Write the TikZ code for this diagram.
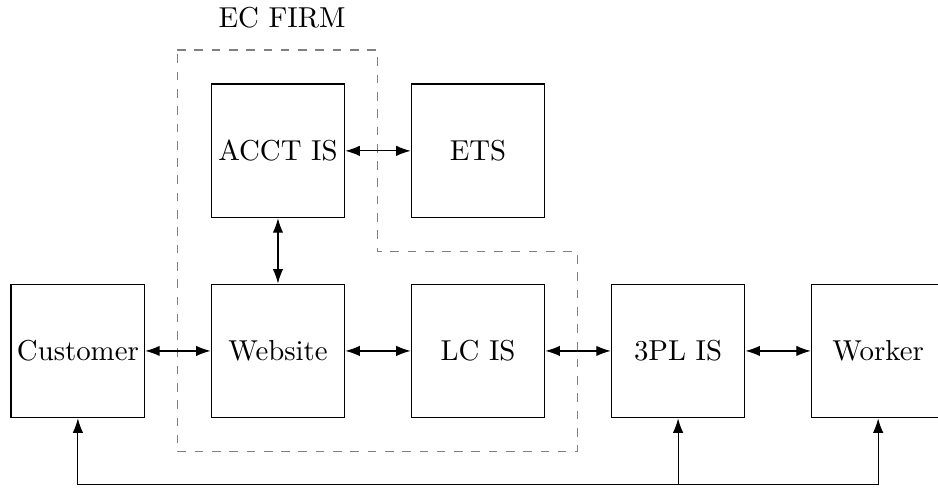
\documentclass[tikz,border=0pt]{standalone}
\usepackage{tikz}
\usetikzlibrary{arrows.meta,positioning,calc}

\begin{document}
\begin{tikzpicture}[<->,>={Latex[length=5pt,width=3.6pt]},node distance=2.44cm,
    box/.style={draw,rectangle,minimum size=1.63cm,inner sep=0pt},
    firm/.style={draw=gray,dashed,-}]
\useasboundingbox (-0.95,-1.66) rectangle (10.49,4.28);
\begin{scope}
    \node [box] (cust) {Customer};
    \node [box] (web) [right of=cust] {Website};
    \node [box] (lc) [right of=web] {LC IS};
    \node [box] (tpl) [right of=lc] {3PL IS};
    \node [box] (work) [right of=tpl] {Worker};
    \node [box] (acct) [above of=web] {ACCT IS};
    \node [box] (ets) [right of=acct] {ETS};

    % EC firm border
    \draw [firm] (1.21,3.67) -- (3.65,3.67) -- (3.65,1.21) -- (6.09,1.21)
          -- (6.09,-1.23) -- (1.21,-1.23) -- cycle;
    \node (ecfirm) at (2.49,4.06) {EC FIRM};

    \draw (cust) -- (web);
    \draw (web) -- (lc);
    \draw (lc) -- (tpl);
    \draw (tpl) -- (work);
    \draw (acct) -- (ets);
    \draw (acct) -- (web);

    % return line along the bottom
    \coordinate (b0) at (cust |- 0,-1.63);
    \coordinate (b1) at (tpl |- 0,-1.63);
    \coordinate (b2) at (work |- 0,-1.63);
    \draw [-] (b0) -- (b2);
    \draw [->] (b0) -- (cust);
    \draw [->] (b1) -- (tpl);
    \draw [->] (b2) -- (work);
\end{scope}
\end{tikzpicture}
\end{document}
